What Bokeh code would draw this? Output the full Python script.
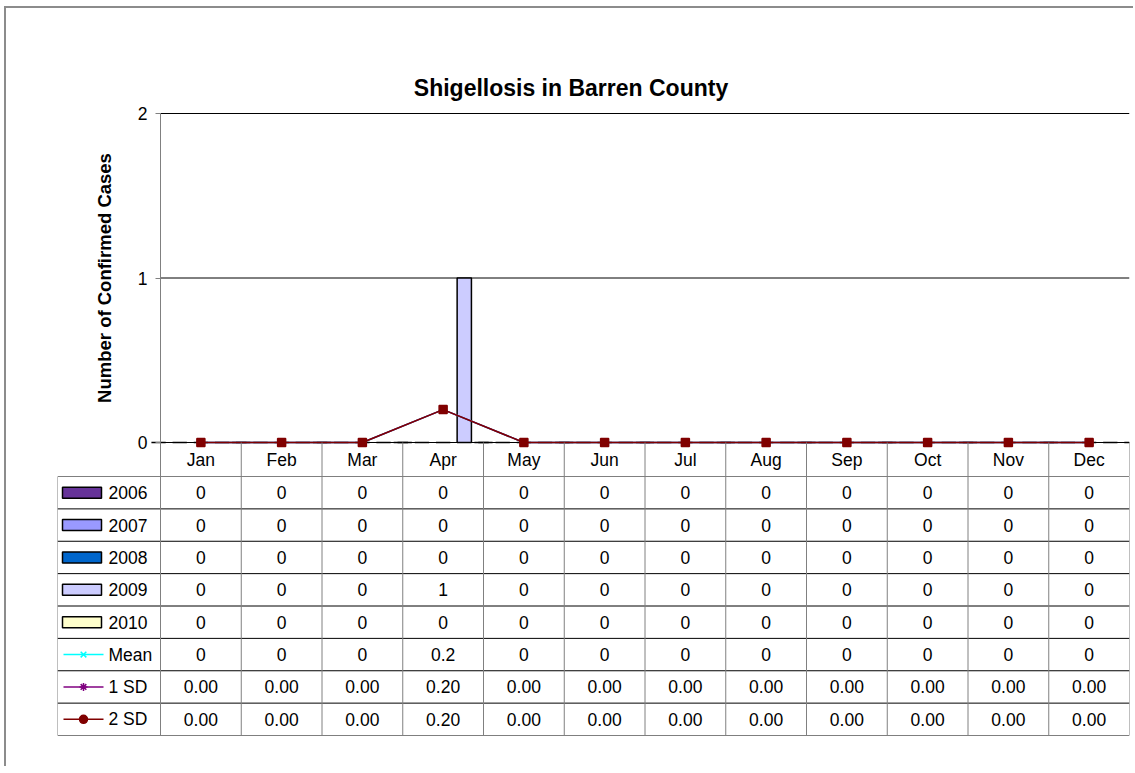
from bokeh.plotting import figure
from bokeh.models import Range1d, FixedTicker
from bokeh.layouts import column
from bokeh.core.properties import value
from bokeh.embed import file_html
from bokeh.resources import INLINE

# ---------------- data ----------------
months = ["Jan", "Feb", "Mar", "Apr", "May", "Jun", "Jul", "Aug", "Sep", "Oct", "Nov", "Dec"]
years = ["2006", "2007", "2008", "2009", "2010"]
y2006 = [0, 0, 0, 0, 0, 0, 0, 0, 0, 0, 0, 0]
y2007 = [0, 0, 0, 0, 0, 0, 0, 0, 0, 0, 0, 0]
y2008 = [0, 0, 0, 0, 0, 0, 0, 0, 0, 0, 0, 0]
y2009 = [0, 0, 0, 1, 0, 0, 0, 0, 0, 0, 0, 0]
y2010 = [0, 0, 0, 0, 0, 0, 0, 0, 0, 0, 0, 0]
mean = [0, 0, 0, 0.2, 0, 0, 0, 0, 0, 0, 0, 0]
sd1 = [0.00, 0.00, 0.00, 0.20, 0.00, 0.00, 0.00, 0.00, 0.00, 0.00, 0.00, 0.00]
sd2 = [0.00, 0.00, 0.00, 0.20, 0.00, 0.00, 0.00, 0.00, 0.00, 0.00, 0.00, 0.00]
yticks = [0, 1, 2]
title = "Shigellosis in Barren County"
ylabel = "Number of Confirmed Cases"

year_series = [y2006, y2007, y2008, y2009, y2010]
year_colors = ["#663399", "#9999FF", "#0066CC", "#CCCCFF", "#FFFFCC"]
line_names = ["Mean", "1 SD", "2 SD"]
line_series = [mean, sd1, sd2]
line_colors = ["#00FFFF", "#800080", "#800000"]
line_markers = ["x", "asterisk", "square"]
legend_markers = ["x", "asterisk", "circle"]

FONT = "Liberation Sans"
FS = "17.5px"
W = 1129
n = len(months)
centers = [i + 0.5 for i in range(n)]
col_px = 80.75                      # pixel width of one month column
leg_w = 103 / col_px                # legend column width in column units
y_px = 164.5                        # pixels per case on the value axis
hdr = 34 / y_px                     # header row height in value units
ytop = 434 / y_px                   # space above zero line

xr = Range1d(-leg_w, n)

# ---------------- chart (incl. month header row) ----------------
pa = figure(width=W, height=468, output_backend="svg", toolbar_location=None,
            x_range=xr, y_range=Range1d(-hdr, ytop),
            x_axis_location=None, min_border_left=51, min_border_right=6,
            min_border_top=0, min_border_bottom=0)
pa.outline_line_color = None
pa.xgrid.grid_line_color = None
pa.ygrid.grid_line_color = None
ax = pa.yaxis[0]
ax.fixed_location = 0
ax.bounds = (min(yticks), max(yticks))
ax.ticker = FixedTicker(ticks=yticks)
ax.axis_line_color = "#808080"
ax.major_tick_line_color = "#808080"
ax.major_tick_out = 5
ax.major_tick_in = 0
ax.minor_tick_line_color = None
ax.major_label_text_font = FONT
ax.major_label_text_font_size = FS
ax.major_label_text_color = "black"
ax.major_label_standoff = 8
ax.axis_label = ylabel
ax.axis_label_text_font = FONT
ax.axis_label_text_font_style = "bold"
ax.axis_label_text_font_size = "18.5px"
ax.axis_label_text_color = "black"
ax.axis_label_standoff = 20

# horizontal value gridlines
pa.segment(x0=[0] * len(yticks), y0=yticks, x1=[n] * len(yticks), y1=yticks,
           line_color="black", line_width=1)

dodge = 0.262
bw = 0.177
for k, (ser, col) in enumerate(zip(year_series, year_colors)):
    xs = [c + (k - 2) * dodge for c in centers]
    pa.vbar(x=xs, top=ser, bottom=0, width=bw, fill_color=col,
            line_color="black", line_width=1.5)

for ser, col, mk in zip(line_series, line_colors, line_markers):
    pa.line(centers, ser, line_color=col, line_width=1.5)
    pa.scatter(centers, ser, marker=mk, size=8, line_color=col, fill_color=col,
               line_width=1.5)

# header row of data table
pa.segment(x0=list(range(n + 1)), y0=[0] * (n + 1), x1=list(range(n + 1)),
           y1=[-hdr] * (n + 1), line_color="#808080", line_width=1)
pa.segment(x0=[-leg_w], y0=[-hdr], x1=[n], y1=[-hdr], line_color="black", line_width=1)
pa.text(x=centers, y=[-hdr / 2] * n, text=months, text_align="center",
        text_baseline="middle", text_font=value(FONT), text_font_size=FS,
        text_color="black")

# title
pa.text(x=[(570.5 - 160) / col_px], y=[(442 - 87) / y_px], text=[title],
        text_align="center", text_baseline="middle", text_font=value(FONT),
        text_font_size="23px", text_font_style="bold", text_color="black")

# ---------------- data table body ----------------
rows = len(years) + len(line_names)
pb = figure(width=W, height=292, output_backend="svg", toolbar_location=None,
            x_range=xr, y_range=Range1d(rows, 0),
            x_axis_location=None, y_axis_location=None,
            min_border_left=51, min_border_right=6, min_border_top=0,
            min_border_bottom=33)
pb.outline_line_color = None
pb.xgrid.grid_line_color = None
pb.ygrid.grid_line_color = None

pb.segment(x0=[-leg_w] * (rows + 1), y0=list(range(rows + 1)),
           x1=[n] * (rows + 1), y1=list(range(rows + 1)), line_color="black", line_width=1)
pb.segment(x0=[-leg_w] + list(range(n + 1)), y0=[0] * (n + 2),
           x1=[-leg_w] + list(range(n + 1)), y1=[rows] * (n + 2),
           line_color="#808080", line_width=1)

tx, ty, tt = [], [], []
for r, ser in enumerate(year_series):
    for i, v in enumerate(ser):
        tx.append(centers[i]); ty.append(r + 0.5); tt.append(str(int(v)))
for i, v in enumerate(mean):
    tx.append(centers[i]); ty.append(len(years) + 0.5); tt.append(f"{v:g}")
for j, ser in enumerate([sd1, sd2]):
    for i, v in enumerate(ser):
        tx.append(centers[i]); ty.append(len(years) + 1.5 + j); tt.append(f"{v:.2f}")
pb.text(x=tx, y=ty, text=tt, text_align="center", text_baseline="middle",
        text_font=value(FONT), text_font_size=FS, text_color="black")

# legend keys
sw_l = (62 - 160) / col_px
sw_r = (101 - 160) / col_px
ln_l = (63 - 160) / col_px
ln_r = (103 - 160) / col_px
lab_x = (108 - 160) / col_px
yr_rows = [r + 0.5 for r in range(len(years))]
pb.quad(left=sw_l, right=sw_r, top=[y - 0.17 for y in yr_rows],
        bottom=[y + 0.17 for y in yr_rows], fill_color=year_colors,
        line_color="black", line_width=1.5)
ln_rows = [len(years) + 0.5 + j for j in range(len(line_names))]
for y, col, mk in zip(ln_rows, line_colors, legend_markers):
    pb.segment(x0=[ln_l], y0=[y], x1=[ln_r], y1=[y], line_color=col, line_width=1.5)
    pb.scatter([(ln_l + ln_r) / 2], [y], marker=mk, size=8, line_color=col,
               fill_color=col, line_width=1.5)
pb.text(x=[lab_x] * rows, y=yr_rows + ln_rows, text=years + line_names,
        text_align="left", text_baseline="middle", text_font=value(FONT),
        text_font_size=FS, text_color="black")

layout = column(pa, pb, margin=(8, 0, 0, 6),
                styles={"box-shadow": "-2px -2px 0 0 #8c8c8c"})

open("out.html", "w").write(file_html(layout, INLINE))
